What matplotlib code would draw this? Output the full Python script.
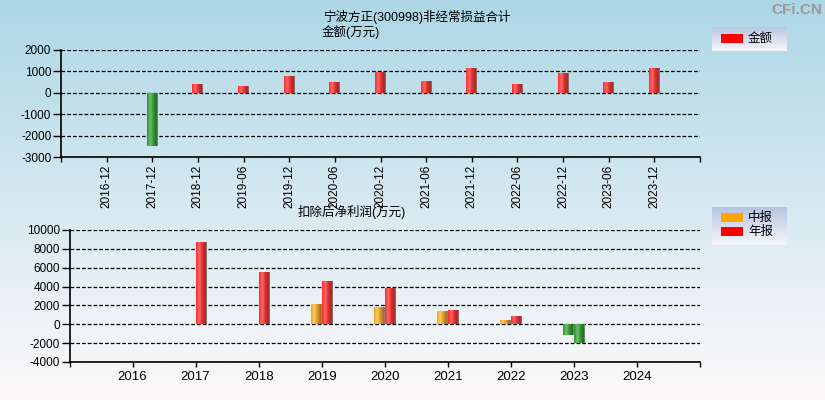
import numpy as np
import matplotlib
matplotlib.use('Agg')
import matplotlib.pyplot as plt
from matplotlib.colors import LinearSegmentedColormap
from matplotlib.patches import Rectangle

plt.rcParams['font.family'] = ['Liberation Sans', 'Noto Sans CJK SC', 'DejaVu Sans']
plt.rcParams['axes.unicode_minus'] = False

# ---------------- data ----------------
top_periods = ['2016-12', '2017-12', '2018-12', '2019-06', '2019-12', '2020-06',
               '2020-12', '2021-06', '2021-12', '2022-06', '2022-12', '2023-06', '2023-12']
top_values = [np.nan, -2480, 390, 300, 770, 490, 960, 530, 1150, 390, 920, 490, 1150]

years = ['2016', '2017', '2018', '2019', '2020', '2021', '2022', '2023', '2024']
mid_values = [np.nan, np.nan, np.nan, 2160, 1840, 1420, 460, -1130, np.nan]
annual_values = [np.nan, 8760, 5500, 4540, 3870, 1520, 890, -2020, np.nan]

top_title = '宁波方正(300998)非经常损益合计'
top_sub = '金额(万元)'
bottom_title = '扣除后净利润(万元)'

W, H = 825, 400
fig = plt.figure(figsize=(W / 100, H / 100), dpi=100)

def fx(x):
    return x / W

def fy(y):
    return 1 - y / H

# background gradient
bg = fig.add_axes([0, 0, 1, 1], zorder=-10)
top_c = np.array([173, 215, 230]) / 255
bot_c = np.array([254, 250, 250]) / 255
t = np.linspace(0, 1, 256)[:, None, None]
grad_img = top_c[None, None, :] * (1 - t) + bot_c[None, None, :] * t
bg.imshow(grad_img, aspect='auto', extent=[0, 1, 0, 1])
bg.set_xlim(0, 1); bg.set_ylim(0, 1)
bg.axis('off')

palettes = {
    'red': ['#ff2a2a', '#ff6a6a', '#e83030', '#9a2a2a', '#8a8a8a'],
    'green': ['#2f8f2f', '#6abf6a', '#3a9a3a', '#1f6a1f', '#8a9a8a'],
    'orange': ['#f5a623', '#ffc860', '#e0a030', '#a07020', '#8a8a8a'],
}
cmaps = {k: LinearSegmentedColormap.from_list(k, list(zip([0, 0.3, 0.55, 0.88, 1.0], v)))
         for k, v in palettes.items()}
hgrad = np.linspace(0, 1, 64)[None, :]

def gbar(ax, x, h, w, cname):
    if np.isnan(h):
        return
    b = ax.bar(x, h, w, align='edge', color=palettes[cname][0], zorder=3, linewidth=0)[0]
    im = ax.imshow(hgrad, cmap=cmaps[cname], aspect='auto',
                   extent=[x, x + w, min(0, h), max(0, h)], zorder=4)
    im.set_clip_path(b)

def style_axes(ax, yticks, ylim, xlim):
    ax.set_facecolor('none')
    ax.set_ylim(*ylim)
    ax.set_xlim(*xlim)
    ax.set_yticks(yticks)
    for s in ['top', 'right']:
        ax.spines[s].set_visible(False)
    for s in ['left', 'bottom']:
        ax.spines[s].set_color('black')
        ax.spines[s].set_linewidth(1.2)
    for yv in yticks:
        ax.axhline(yv, color='black', lw=0.9, ls=(0, (3, 1.6)), zorder=2)
    ax.tick_params(axis='y', length=6, width=1, pad=1, labelsize=8.5)
    ax.tick_params(axis='x', length=3.5, width=1, pad=2, labelsize=8.5)

# ---------------- top chart ----------------
ax1 = fig.add_axes([fx(61), fy(157), fx(700 - 61), (157 - 50) / H])
n1 = len(top_periods)
xs1 = np.arange(n1)
style_axes(ax1, np.arange(-3000, 2001, 1000), (-3000, 2000), (-1, n1))
bw1 = 0.24
for i, v in enumerate(top_values):
    gbar(ax1, xs1[i] - bw1 / 2, v, bw1, 'green' if v < 0 else 'red')
ax1.set_xlim(-1, n1)
ax1.set_ylim(-3000, 2000)
ax1.set_xticks(list(xs1) + [-1, n1])
ax1.set_xticklabels(top_periods + ['', ''], rotation=90)

# ---------------- bottom chart ----------------
ax2 = fig.add_axes([fx(69.5), fy(362), fx(700 - 69.5), (362 - 230) / H])
n2 = len(years)
xs2 = np.arange(n2)
style_axes(ax2, np.arange(-4000, 10001, 2000), (-4000, 10000), (-1, n2))
bw2 = 0.167
for i in range(n2):
    m = mid_values[i]
    a = annual_values[i]
    gbar(ax2, xs2[i] - bw2, m, bw2, 'green' if (not np.isnan(m) and m < 0) else 'orange')
    gbar(ax2, xs2[i], a, bw2, 'green' if (not np.isnan(a) and a < 0) else 'red')
ax2.set_xlim(-1, n2)
ax2.set_ylim(-4000, 10000)
ax2.set_xticks(list(xs2) + [-1, n2])
ax2.set_xticklabels(years + ['', ''])
ax2.tick_params(axis='x', labelsize=9.5, pad=3)

# ---------------- titles ----------------
fig.text(fx(323), fy(17), top_title, fontsize=9, va='center', ha='left')
fig.text(fx(322), fy(32), top_sub, fontsize=9, va='center', ha='left')
fig.text(fx(298), fy(212), bottom_title, fontsize=9, va='center', ha='left')
fig.text(fx(822), fy(10), 'CFi.CN', fontsize=11, fontweight='bold', color='#9a9a9a',
         va='center', ha='right')

# ---------------- legends ----------------
leg_top = np.array([182, 196, 225]) / 255
leg_bot = np.array([246, 246, 250]) / 255
lt = np.linspace(0, 1, 64)[:, None, None]
leg_img = leg_top[None, None, :] * (1 - lt) + leg_bot[None, None, :] * lt

def legend_box(y0, y1, items):
    lax = fig.add_axes([fx(712), fy(y1), fx(787 - 712), (y1 - y0) / H], zorder=5)
    lax.imshow(leg_img, aspect='auto', extent=[712, 787, y1, y0])
    lax.set_xlim(712, 787)
    lax.set_ylim(y1, y0)
    lax.axis('off')
    for (label, color, yc) in items:
        lax.add_patch(Rectangle((721, yc - 4.5), 22, 9, color=color, lw=0))
        lax.text(748, yc, label, fontsize=9, va='center', ha='left')

legend_box(27, 51, [('金额', '#ff0000', 39)])
legend_box(207, 245, [('中报', '#ffa500', 217.5), ('年报', '#ff0000', 231.5)])

fig.savefig('out.png', dpi=100)
